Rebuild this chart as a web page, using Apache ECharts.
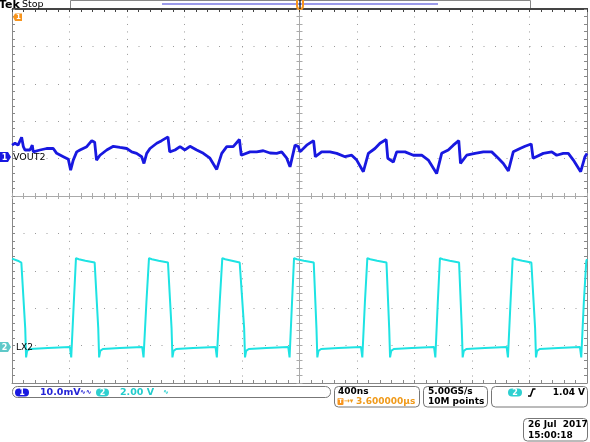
<!DOCTYPE html>
<html><head><meta charset="utf-8">
<script src="https://cdn.jsdelivr.net/npm/echarts@6/dist/echarts.min.js"></script>
<style>html,body{margin:0;padding:0;background:#fff}#c{width:590px;height:442px}</style>
</head><body><div id="c"></div>
<script>
// ---- data (time in ns, CH1 in mV, CH2 in V) ----
const ch1Time = [-2000,-1979,-1958,-1933,-1921,-1910,-1875,-1859,-1852,-1805,-1759,-1713,-1689,-1643,-1608,-1592,-1574,-1550,-1527,-1480,-1445,-1425,-1412,-1388,-1341,-1295,-1249,-1202,-1167,-1133,-1098,-1082,-1063,-1040,-993,-959,-915,-903,-866,-831,-797,-762,-715,-669,-623,-576,-541,-506,-461,-418,-405,-344,-298,-252,-205,-159,-124,-89,-66,-31,-8,3,50,98,110,154,212,259,317,363,398,444,479,525,560,603,614,653,676,734,792,850,896,954,989,1035,1070,1108,1120,1163,1221,1279,1337,1383,1418,1453,1487,1534,1569,1612,1625,1696,1755,1789,1835,1870,1905,1956,1986,2000];
const ch1mV = [3.2,3.7,3.2,5.3,2.8,1.9,1.9,3.2,1.4,1.9,2.3,2.3,1.0,0.1,-0.6,-3.5,-0.8,1.4,1.9,2.8,4.4,4.0,-0.8,0.5,1.9,2.9,2.6,2.3,1.4,1.0,0.1,-1.7,1.0,2.3,3.7,4.4,5.4,1.4,1.9,2.8,1.9,2.9,1.9,1.0,-0.3,-3.3,1.0,2.8,2.8,4.7,0.5,1.4,1.4,1.7,1.1,1.0,1.4,-0.3,-2.6,3.2,2.8,1.4,3.2,4.4,0.1,1.4,1.4,1.0,0.1,0.5,-0.8,-3.9,1.0,2.3,3.7,4.7,-0.3,-1.3,1.4,1.4,0.5,0.5,-0.8,-4.4,1.0,1.9,3.2,4.4,-1.7,0.5,1.0,1.4,1.4,-0.3,-1.7,-3.7,1.4,2.3,2.9,3.5,-0.3,1.0,1.4,0.5,1.0,1.0,-0.8,-3.9,0.1,1.0];

const ch2Time = [-2000,-1960,-1935,-1908,-1902,-1895,-1875,-1750,
 -1597,-1588,-1570,-1555,-1535,-1490,-1425,-1400,-1394,-1386,-1368,-1250,
 -1094,-1085,-1065,-1047,-1027,-980,-915,-890,-884,-876,-858,-740,
 -584,-575,-555,-537,-517,-470,-416,-385,-379,-371,-353,-230,
 -78,-69,-52,-38,-18,30,99,118,124,132,150,270,
 428,437,455,472,492,540,605,624,630,638,656,780,
 936,945,962,977,997,1045,1110,1129,1135,1143,1161,1290,
 1441,1450,1468,1483,1503,1550,1613,1639,1645,1653,1671,1800,
 1951,1960,1978,1995,2000];
const ch2V = [4.73,4.62,4.52,1.0,-0.55,-0.2,-0.1,-0.05,
 0.0,-0.55,2.4,4.76,4.70,4.62,4.52,1.0,-0.55,-0.2,-0.1,-0.05,
 0.0,-0.55,2.4,4.76,4.70,4.62,4.52,1.0,-0.55,-0.2,-0.1,-0.05,
 0.0,-0.55,2.4,4.76,4.70,4.62,4.52,1.0,-0.55,-0.2,-0.1,-0.05,
 0.0,-0.55,2.4,4.76,4.70,4.62,4.52,1.0,-0.55,-0.2,-0.1,-0.05,
 0.0,-0.55,2.4,4.76,4.70,4.62,4.52,1.0,-0.55,-0.2,-0.1,-0.05,
 0.0,-0.55,2.4,4.76,4.70,4.62,4.52,1.0,-0.55,-0.2,-0.1,-0.05,
 0.0,-0.55,2.4,4.76,4.70,4.62,4.52,1.0,-0.55,-0.2,-0.1,-0.05,
 0.0,-0.55,2.4,4.6,4.7];

// scope settings
const ch1Scale = 10;   // mV/div
const ch1Pos = 1.04;   // div
const ch2Scale = 2;    // V/div
const ch2Pos = -4.04;  // div
const ch1Label = "VOUT2", ch2Label = "LX2";

const BLUE = '#1818e0', CYAN = '#1ee3e3', ORANGE = '#f7941d';
const FONT = 'DejaVu Sans';

const d1 = ch1Time.map((t,i)=>[t, ch1mV[i]/ch1Scale + ch1Pos]);
const d2 = ch2Time.map((t,i)=>[t, ch2V[i]/ch2Scale + ch2Pos]);

function xAx(pos, onZero, color, split){
  return {type:'value', min:-2000, max:2000, interval:400, position:pos,
    axisLine:{show:true, onZero:onZero, onZeroAxisIndex:0, lineStyle:{color:color, width:1}},
    axisTick:{show:true, inside:true, length:3, lineStyle:{color:color}},
    minorTick:{show:true, splitNumber:5, length:3, lineStyle:{color:color}},
    axisLabel:{show:false},
    splitLine:{show:split, lineStyle:{color:'#9a9a9a', type:[1,6.48], width:1}},
    minorSplitLine:{show:false}};
}
function yAx(pos, onZero, color, split){
  return {type:'value', min:-5, max:5, interval:1, position:pos,
    axisLine:{show:true, onZero:onZero, onZeroAxisIndex:0, lineStyle:{color:color, width:1}},
    axisTick:{show:true, inside:true, length:3, lineStyle:{color:color}},
    minorTick:{show:true, splitNumber:5, length:3, lineStyle:{color:color}},
    axisLabel:{show:false},
    splitLine:{show:split, lineStyle:{color:'#9a9a9a', type:[1,10.5], width:1}},
    minorSplitLine:{show:false}};
}

function txt(x,y,s,fill,size,weight,align){
  return {type:'text', z:100, style:{x:x, y:y, text:s, fill:fill, font:(weight||'normal')+' '+size+'px "'+FONT+'"', textAlign:align||'left', textVerticalAlign:'middle'}};
}
function box(x,y,w,h,r,stroke,fill){
  return {type:'rect', z:90, shape:{x:x,y:y,width:w,height:h,r:r}, style:{fill:fill||'#fff', stroke:stroke, lineWidth:1}};
}
function pill(x,y,w,h,fill,label){
  return [{type:'rect', z:95, shape:{x:x,y:y,width:w,height:h,r:h/2}, style:{fill:fill}},
          txt(x+w/2, y+h/2+0.5, label, '#fff', 8, 'bold', 'center')];
}

const graphics = [].concat(
  [ txt(-1,5,'Tek','#000',11,'bold'), txt(22,5,'Stop','#000',9.5,'normal'),
    {type:'rect', z:80, shape:{x:70.5,y:0.5,width:460,height:8}, style:{fill:'#fff', stroke:'#888', lineWidth:1}},
    {type:'line', z:85, shape:{x1:162,y1:4,x2:438,y2:4}, style:{stroke:'#9b9bea', lineWidth:2}},
    {type:'line', z:81, shape:{x1:12,y1:8.5,x2:588,y2:8.5}, style:{stroke:'#444', lineWidth:1.2}},
    {type:'rect', z:86, shape:{x:297,y:-3,width:6,height:12,r:3}, style:{fill:null, stroke:ORANGE, lineWidth:2}},
    {type:'line', z:87, shape:{x1:300,y1:0,x2:300,y2:9}, style:{stroke:'#000', lineWidth:1.2}},
    // orange reference marker at top-left
    {type:'polygon', z:95, shape:{points:[[13,17],[15,13.5],[22,13.5],[22,21],[15,21]]}, style:{fill:ORANGE}},
    txt(18.5,17.5,'1','#fff',7,'bold','center'),
    // ch1 marker
    {type:'polygon', z:95, shape:{points:[[0,152],[8,152],[11,157],[8,162],[0,162]]}, style:{fill:BLUE}},
    txt(4.5,157.5,'1','#fff',8,'bold','center'),
    txt(13,157.5,ch1Label,'#000',9.5,'normal'),
    // ch2 marker
    {type:'polygon', z:95, shape:{points:[[0,342],[8,342],[11,347],[8,352],[0,352]]}, style:{fill:'#5fc9c9'}},
    txt(4.5,347.5,'2','#fff',8,'bold','center'),
    txt(16,347.5,ch2Label,'#000',9,'normal'),
    // bottom panels
    box(12.5,386.5,318,11,5,'#777'),
    box(334.5,386.5,85,20.5,4,'#777'),
    box(423.5,386.5,64,20.5,4,'#777'),
    box(491.5,386.5,96,20.5,4,'#777'),
    box(523.5,418.5,64,22.5,4,'#777')
  ],
  pill(15,388.5,14,8,BLUE,'1'),
  [ txt(40,392.5,'10.0mV','#2424d6',9.5,'bold'),
    txt(80,392.5,'\u223F\u223F','#2424d6',7,'bold') ],
  pill(96,388.5,13,8,'#2ed0d0','2'),
  [ txt(120,392.5,'2.00 V','#22cccc',9.5,'bold'),
    txt(163,392.5,'\u223F','#22cccc',7,'bold'),
    txt(338,391.5,'400ns','#000',9,'bold'),
    {type:'rect', z:95, shape:{x:337.5,y:398,width:6,height:7,r:1}, style:{fill:ORANGE}},
    txt(340.5,401.8,'T','#fff',6,'bold','center'),
    txt(344,401.5,'\u2192\u25BE','#f09a1a',7,'bold'),
    txt(356,401.8,'3.600000\u00B5s','#f09a1a',9,'bold'),
    txt(428,391.5,'5.00GS/s','#000',9,'bold'),
    txt(428,401.8,'10M points','#000',9,'bold') ],
  pill(508,388.5,14,8,'#2ed0d0','2'),
  [ {type:'polyline', z:95, shape:{points:[[528,396],[530.5,396],[533,389],[535.5,389]]}, style:{stroke:'#000', lineWidth:1.5, fill:null}},
    txt(585,392.5,'1.04 V','#000',9,'bold','right'),
    txt(528,424.5,'26 Jul  2017','#000',9,'bold'),
    txt(528,435.5,'15:00:18','#000',9,'bold') ]
);

const chart = echarts.init(document.getElementById('c'), null, {renderer:'canvas'});
chart.setOption({
  animation:false,
  backgroundColor:'#fff',
  grid:{left:12, top:9, width:575, height:374, containLabel:false},
  xAxis:[ xAx('bottom', false, '#888', true), xAx('top', false, '#444', false),
          xAx('bottom', true, '#aaa', false), xAx('top', true, '#aaa', false) ],
  yAxis:[ yAx('left', false, '#888', true), yAx('right', false, '#888', false),
          yAx('left', true, '#aaa', false), yAx('right', true, '#aaa', false) ],
  series:[
    {type:'line', name:'CH2', data:d2, xAxisIndex:0, yAxisIndex:0, showSymbol:false, symbol:'none',
     lineStyle:{color:CYAN, width:2}, z:5},
    {type:'line', name:'CH1', data:d1, xAxisIndex:0, yAxisIndex:0, showSymbol:false, symbol:'none',
     lineStyle:{color:BLUE, width:2.8}, z:6}
  ],
  graphic:{elements:graphics}
});
</script></body></html>
